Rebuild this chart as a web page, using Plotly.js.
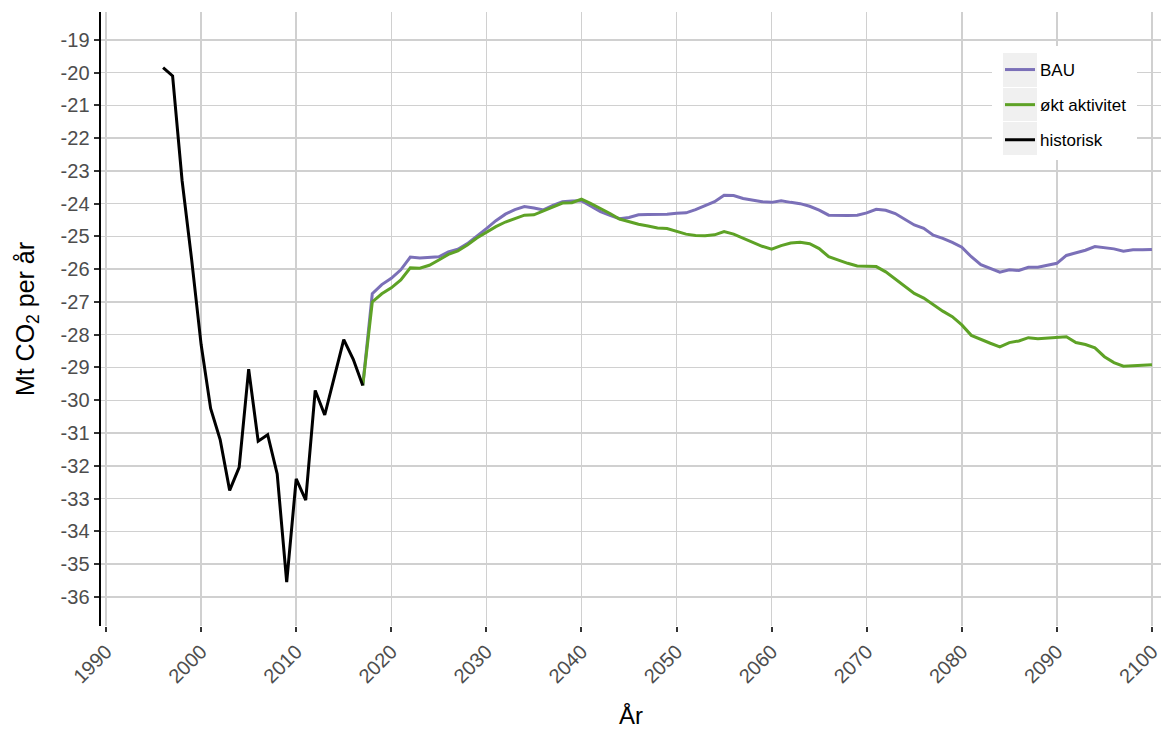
<!DOCTYPE html>
<html>
<head>
<meta charset="utf-8">
<script src="https://cdn.plot.ly/plotly-3.0.1.min.js"></script>
<style>html,body{margin:0;padding:0;background:#fff;}#chart{width:1168px;height:729px;}</style>
</head>
<body>
<div id="chart"></div>
<script>
// Historic
var histYears = [1996,1997,1998,1999,2000,2001,2002,2003,2004,2005,2006,2007,2008,2009,2010,2011,2012,2013,2014,2015,2016,2017];
var histValues = [-19.85,-20.1,-23.3,-25.7,-28.3,-30.25,-31.2,-32.75,-32.05,-29.05,-31.25,-31.05,-32.25,-35.55,-32.4,-33.05,-29.7,-30.45,-29.3,-28.15,-28.75,-29.55];

// Projections 2017..2100
var projYears = [];
for (var y = 2017; y <= 2100; y++) projYears.push(y);

var bauValues = [-29.55,-26.75,-26.47,-26.28,-26.02,-25.63,-25.66,-25.64,-25.62,-25.47,
  -25.39,-25.22,-25.0,-24.76,-24.52,-24.32,-24.18,-24.09,-24.13,-24.19,
  -24.05,-23.94,-23.92,-23.91,-24.08,-24.24,-24.36,-24.46,-24.42,-24.34,
  -24.33,-24.33,-24.32,-24.29,-24.28,-24.18,-24.06,-23.94,-23.74,-23.75,
  -23.84,-23.89,-23.94,-23.96,-23.91,-23.96,-24.0,-24.08,-24.2,-24.35,
  -24.36,-24.36,-24.35,-24.28,-24.17,-24.2,-24.3,-24.47,-24.65,-24.75,
  -24.96,-25.06,-25.18,-25.33,-25.62,-25.86,-25.98,-26.09,-26.02,-26.04,
  -25.94,-25.94,-25.88,-25.82,-25.58,-25.5,-25.42,-25.31,-25.34,-25.38,
  -25.45,-25.41,-25.41,-25.4];

var oktValues = [-29.55,-27.0,-26.75,-26.57,-26.33,-25.96,-25.97,-25.88,-25.72,-25.55,
  -25.44,-25.26,-25.05,-24.88,-24.7,-24.56,-24.45,-24.35,-24.34,-24.22,
  -24.1,-23.98,-23.97,-23.86,-24.0,-24.14,-24.3,-24.47,-24.55,-24.63,
  -24.68,-24.74,-24.76,-24.85,-24.93,-24.97,-24.98,-24.95,-24.85,-24.93,
  -25.05,-25.18,-25.3,-25.39,-25.28,-25.2,-25.18,-25.22,-25.37,-25.62,
  -25.73,-25.82,-25.9,-25.9,-25.92,-26.08,-26.3,-26.52,-26.74,-26.88,
  -27.08,-27.28,-27.45,-27.7,-28.02,-28.15,-28.26,-28.37,-28.24,-28.19,
  -28.09,-28.12,-28.1,-28.06,-28.06,-28.24,-28.3,-28.4,-28.67,-28.85,
  -28.96,-28.95,-28.94,-28.92];

var xTicks = [1990,2000,2010,2020,2030,2040,2050,2060,2070,2080,2090,2100];
var yTicks = [];
for (var t = -36; t <= -19; t++) yTicks.push(t);

var traces = [
  {x: projYears, y: bauValues, name: 'BAU', mode: 'lines', legendgroup: 'a',
   line: {color: '#7b70b8', width: 3}},
  {x: projYears, y: oktValues, name: 'økt aktivitet', mode: 'lines', legendgroup: 'b',
   line: {color: '#5ea226', width: 3}},
  {x: histYears, y: histValues, name: 'historisk', mode: 'lines', legendgroup: 'c',
   line: {color: '#000000', width: 3}}
];

var FONT = 'Liberation Sans, Arial, sans-serif';
var tickFont = {family: FONT, size: 20, color: '#4d4d4d'};

// Legend decoration boxes (paper coordinates; plot area 101..1161 x, 12..626 y)
function px(xp) { return (xp - 101) / 1060; }
function py(yp) { return (626 - yp) / 614; }
var shapes = [
  {type: 'rect', xref: 'paper', yref: 'paper', layer: 'above',
   x0: px(992), x1: px(1137), y0: py(160), y1: py(46),
   fillcolor: '#ffffff', line: {width: 0}},
  {type: 'rect', xref: 'paper', yref: 'paper', layer: 'above',
   x0: px(1003), x1: px(1037), y0: py(87), y1: py(53),
   fillcolor: '#f0f0f0', line: {width: 0}},
  {type: 'rect', xref: 'paper', yref: 'paper', layer: 'above',
   x0: px(1003), x1: px(1037), y0: py(121), y1: py(88),
   fillcolor: '#f0f0f0', line: {width: 0}},
  {type: 'rect', xref: 'paper', yref: 'paper', layer: 'above',
   x0: px(1003), x1: px(1037), y0: py(155), y1: py(122),
   fillcolor: '#f0f0f0', line: {width: 0}}
];

var layout = {
  width: 1168, height: 729,
  margin: {l: 101, r: 7, t: 12, b: 103},
  paper_bgcolor: '#ffffff', plot_bgcolor: '#ffffff',
  showlegend: true,
  shapes: shapes,
  legend: {
    x: px(1000), y: py(52), xanchor: 'left', yanchor: 'top',
    bgcolor: 'rgba(0,0,0,0)', borderwidth: 0,
    font: {family: FONT, size: 17, color: '#000'},
    tracegroupgap: 10, traceorder: 'grouped', itemwidth: 30
  },
  xaxis: {
    range: [1989.47, 2100.95],
    tickvals: xTicks, ticktext: xTicks.map(String),
    tickangle: -45, tickfont: tickFont,
    ticks: 'outside', ticklen: 5, tickwidth: 2, tickcolor: '#333333',
    showgrid: true, gridcolor: '#d0d0d0', gridwidth: 1.5,
    showline: false, zeroline: false,
    title: {text: 'År', font: {family: FONT, size: 24, color: '#000'}, standoff: 22}
  },
  yaxis: {
    range: [-36.89, -18.15],
    tickvals: yTicks, ticktext: yTicks.map(String),
    tickfont: tickFont,
    ticks: 'outside', ticklen: 5, tickwidth: 2, tickcolor: '#333333',
    showgrid: true, gridcolor: '#d0d0d0', gridwidth: 1.5,
    showline: true, linecolor: '#000000', linewidth: 2.5,
    zeroline: false,
    title: {text: 'Mt CO<sub>2</sub> per år', font: {family: FONT, size: 25, color: '#000'}, standoff: 19}
  }
};

Plotly.newPlot('chart', traces, layout, {displayModeBar: false, staticPlot: true});
</script>
</body>
</html>
